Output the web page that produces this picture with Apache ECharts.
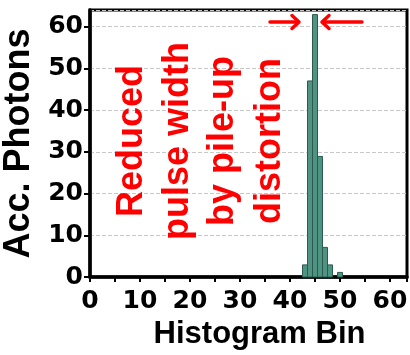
<!DOCTYPE html>
<html><head><meta charset="utf-8">
<script src="https://cdn.jsdelivr.net/npm/echarts@6/dist/echarts.min.js"></script>
<style>html,body{margin:0;padding:0;background:#fff}#c{width:410px;height:355px}</style>
</head><body><div id="c"></div>
<script>
// Data
const bins = [43, 44, 45, 46, 47, 48, 50];
const counts = [2.9, 47, 62.9, 28.9, 7.1, 2.9, 1.1];
const xLabel = 'Histogram Bin';
const yLabel = 'Acc. Photons';
const noteLines = ['Reduced', 'pulse width', 'by pile-up', 'distortion'];

const chart = echarts.init(document.getElementById('c'), null, {renderer: 'canvas'});
const data = bins.map((b, i) => [b, counts[i]]);
const tickFont = {fontFamily: 'DejaVu Sans', fontWeight: 'bold', fontSize: 25, color: '#000'};

const notePos = [132, 178.5, 223.5, 270.5];
const graphics = noteLines.map((t, i) => ({
  type: 'text', x: notePos[i], y: 141, rotation: Math.PI / 2, z: 10,
  style: {text: t, fill: '#ff0000', font: 'bold 36px "Liberation Sans"', align: 'center', verticalAlign: 'middle'}
}));
const red = {stroke: '#ff0000', lineWidth: 3.5, lineCap: 'round', lineJoin: 'round', fill: null};
graphics.push(
  {type: 'polyline', z: 10, shape: {points: [[270, 22], [298, 22]]}, style: red},
  {type: 'polyline', z: 10, shape: {points: [[292, 15.5], [299, 22], [292, 28.5]]}, style: red},
  {type: 'polyline', z: 10, shape: {points: [[362, 22], [324, 22]]}, style: red},
  {type: 'polyline', z: 10, shape: {points: [[329, 15.5], [322, 22], [329, 28.5]]}, style: red}
);

chart.setOption({
  animation: false,
  backgroundColor: '#fff',
  grid: {left: 90, right: 3, top: 10, bottom: 78, show: true, borderColor: '#000', borderWidth: 3, backgroundColor: 'transparent', containLabel: false, outerBoundsMode: 'none'},
  xAxis: {
    type: 'value', min: 0, max: 63.4, interval: 10,
    name: xLabel, nameLocation: 'middle', nameGap: 42, nameMoveOverlap: false,
    nameTextStyle: {fontFamily: 'Liberation Sans', fontWeight: 'bold', fontSize: 31, color: '#000', padding: [0, 0, 0, 22]},
    axisLine: {show: true, lineStyle: {color: '#000', width: 3.5}},
    axisTick: {show: true, length: 5, lineStyle: {color: '#000', width: 2}},
    minorTick: {show: true, splitNumber: 2, length: 5, lineStyle: {color: '#000', width: 2}},
    axisLabel: Object.assign({margin: 12}, tickFont),
    splitLine: {show: false}
  },
  yAxis: {
    type: 'value', min: 0, max: 64, interval: 10,
    name: yLabel, nameLocation: 'middle', nameGap: 53, nameMoveOverlap: false,
    nameTextStyle: {fontFamily: 'Liberation Sans', fontWeight: 'bold', fontSize: 36, color: '#000', padding: [10, 0, 0, 0]},
    axisLine: {show: true, lineStyle: {color: '#000', width: 3.5}},
    axisTick: {show: true, length: 6, lineStyle: {color: '#000', width: 2}},
    axisLabel: Object.assign({margin: 7}, tickFont),
    splitLine: {show: true, lineStyle: {color: '#c8c8c8', type: 'dashed', width: 1}}
  },
  graphic: graphics,
  series: [{
    type: 'custom',
    data: data,
    encode: {x: 0, y: 1},
    renderItem: function (params, api) {
      const x = api.value(0), y = api.value(1);
      const p0 = api.coord([x - 0.5, y]);
      const p1 = api.coord([x + 0.5, 0]);
      return {
        type: 'rect',
        shape: {x: p0[0], y: p0[1], width: p1[0] - p0[0], height: p1[1] - p0[1]},
        style: {fill: '#4f9482', stroke: '#2d5a4e', lineWidth: 1}
      };
    }
  }]
});
</script>
</body></html>
